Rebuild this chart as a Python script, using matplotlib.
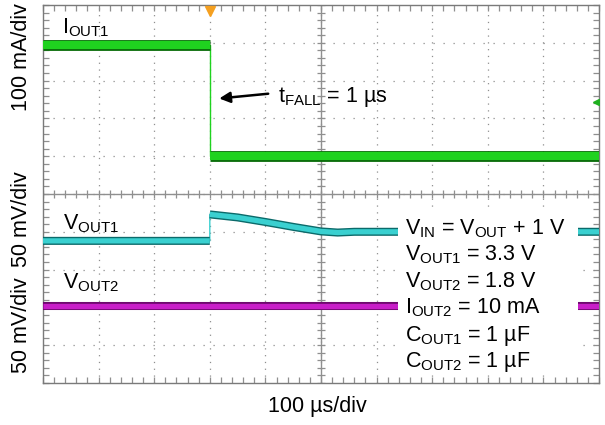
import numpy as np
import matplotlib
matplotlib.use("Agg")
import matplotlib.pyplot as plt
import matplotlib.patheffects as pe
from matplotlib.patches import Rectangle

plt.rcParams['font.family'] = ['Liberation Sans', 'DejaVu Sans']
plt.rcParams['mathtext.fontset'] = 'custom'
plt.rcParams['mathtext.rm'] = 'Liberation Sans'

# time in us, 100 us/div, 10 div
t_iout1 = [0, 300, 300, 1000]
iout1 = [295, 295, 0, 0]          # mA, 100 mA/div
t_vout1 = [0, 300, 300, 350, 400, 450, 500, 530, 560, 1000]
vout1 = [0, 0, 35, 31, 25, 18.5, 12.5, 11, 12, 12]   # mV deviation, 50 mV/div
t_vout2 = [0, 1000]
vout2 = [0, 0]                    # mV deviation, 50 mV/div

# screen offsets (divisions from bottom)
off_i1 = 6.0
off_v1 = 3.76
off_v2 = 2.05

fig = plt.figure(figsize=(6.05, 4.25), dpi=100)
ax = fig.add_axes([43/605, 42/425, 556/605, 378/425])
ax.set_xlim(0, 1000)
ax.set_ylim(0, 10)

gc = '#8f8f8f'
# grid dots
for xv in np.arange(100, 1000, 100):
    ax.plot([xv, xv], [0, 10], color=gc, lw=0.9, ls=(0, (1, 4.44)), zorder=1)
for yv in np.arange(1, 10, 1):
    ax.plot([0, 1000], [yv, yv], color=gc, lw=0.9, ls=(0, (1, 7)), zorder=1)
ax.axhline(5, color=gc, lw=1, zorder=1)
ax.axvline(500, color=gc, lw=1, zorder=1)
mx = np.arange(0, 1001, 20)
my = np.arange(0, 10.01, 0.2)
ax.plot(mx, np.full_like(mx, 5.0, dtype=float), ls='none', marker='|', ms=6, mew=0.9, color=gc, zorder=1)
ax.plot(np.full_like(my, 500.0), my, ls='none', marker='_', ms=6, mew=0.9, color=gc, zorder=1)

ax.set_xticks(np.arange(0, 1001, 100))
ax.set_xticks(mx, minor=True)
ax.set_yticks(np.arange(0, 11, 1))
ax.set_yticks(my, minor=True)
ax.tick_params(which='both', direction='in', top=True, right=True,
               labelbottom=False, labelleft=False, color=gc, length=4, width=0.9)
for s in ax.spines.values():
    s.set_color('#7a7a7a')
    s.set_linewidth(1)


def trace(t, v, off, scale, core, edge, w):
    t = np.asarray(t, float)
    y = off + np.asarray(v, float) / scale
    ax.plot(t, y, color=core, lw=1, zorder=3)
    # thick band only on non-vertical parts
    tt, yy = [t[0]], [y[0]]
    for i in range(1, len(t)):
        if t[i] == t[i - 1]:
            tt.append(np.nan)
            yy.append(np.nan)
        tt.append(t[i])
        yy.append(y[i])
    ax.plot(tt, yy, color=core, lw=w, zorder=3, solid_capstyle='butt',
            path_effects=[pe.Stroke(linewidth=w + 2, foreground=edge), pe.Normal()])


trace(t_iout1, iout1, off_i1, 100, '#1fd21f', '#0b6e0b', 5.8)
trace(t_vout1, vout1, off_v1, 50, '#3ad0d0', '#0b6a6a', 3.8)
trace(t_vout2, vout2, off_v2, 50, '#c81ec8', '#6e0a6e', 3.8)

# markers
ax.plot([300], [9.84], marker='v', ms=7, color='#f5a020', clip_on=False, zorder=6)
ax.plot([994], [7.43], marker='<', ms=5, color='#1fb01f', zorder=6)

fs = 15.5
ax.text(34, 9.26, r'$\mathregular{I_{OUT1}}$', fontsize=fs, zorder=5)
ax.text(36, 4.07, r'$\mathregular{V_{OUT1}}$', fontsize=fs, zorder=5)
ax.text(36, 2.49, r'$\mathregular{V_{OUT2}}$', fontsize=fs, zorder=5)

ax.annotate('', xy=(312, 7.52), xytext=(410, 7.66),
            arrowprops=dict(arrowstyle='-|>', color='black', lw=1.8, mutation_scale=16), zorder=5)
ax.text(423, 7.43, r'$\mathregular{t_{FALL}}$ = 1 µs', fontsize=fs, zorder=5)

ax.add_patch(Rectangle((638, 0.3), 325, 4.3, facecolor='white', edgecolor='none', zorder=4))
box_lines = [r'$\mathregular{V_{IN}}$ = $\mathregular{V_{OUT}}$ + 1 V',
             r'$\mathregular{V_{OUT1}}$ = 3.3 V',
             r'$\mathregular{V_{OUT2}}$ = 1.8 V',
             r'$\mathregular{I_{OUT2}}$ = 10 mA',
             r'$\mathregular{C_{OUT1}}$ = 1 µF',
             r'$\mathregular{C_{OUT2}}$ = 1 µF']
box_y = [3.94, 3.25, 2.54, 1.85, 1.11, 0.42]
for s, yb in zip(box_lines, box_y):
    ax.text(651, yb, s, fontsize=fs, zorder=5)

fig.text(317/605, (425-412)/425, '100 µs/div', fontsize=fs, ha='center', va='baseline')
fig.text(22/605, 1 - 57/425, '100 mA/div', fontsize=fs, rotation=90, ha='center', va='center')
fig.text(22/605, 1 - 219/425, '50 mV/div', fontsize=fs, rotation=90, ha='center', va='center')
fig.text(22/605, 1 - 325/425, '50 mV/div', fontsize=fs, rotation=90, ha='center', va='center')

fig.savefig('out.png', dpi=100)
